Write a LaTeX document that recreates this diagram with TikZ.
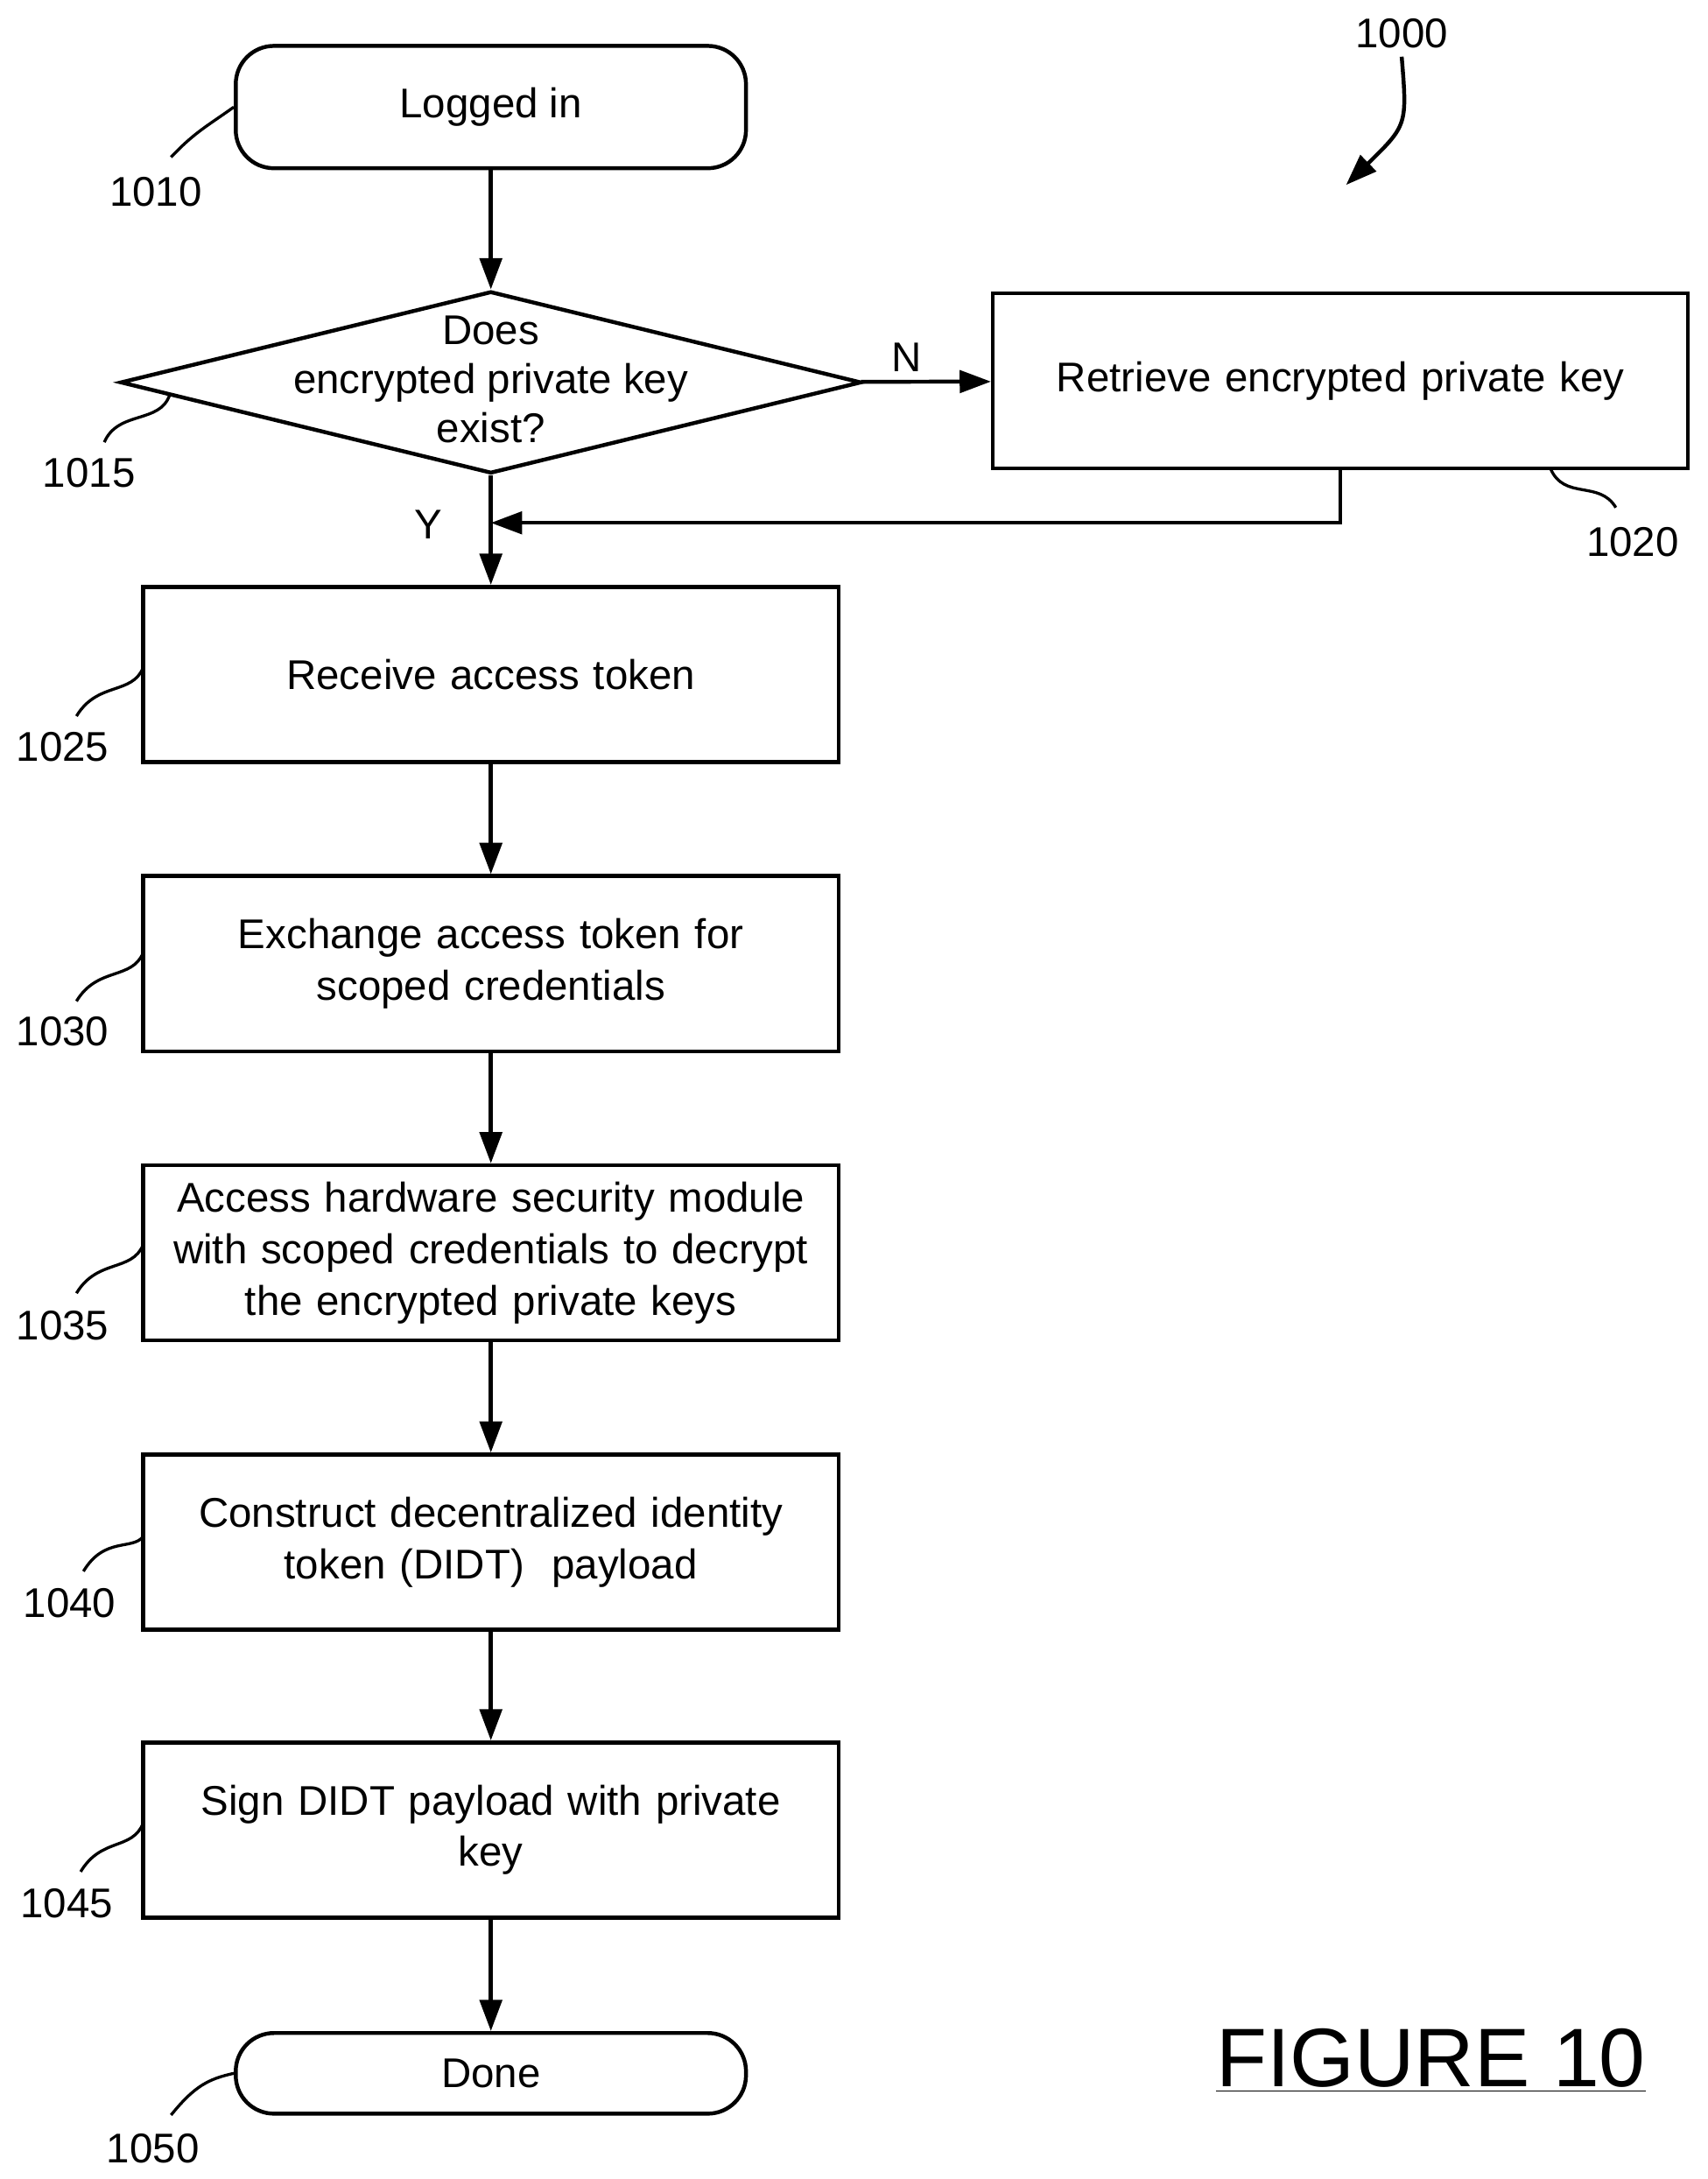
\documentclass[tikz,border=0pt]{standalone}
\usepackage{fontspec}
\setmainfont{Liberation Sans}
\usetikzlibrary{shapes.geometric,arrows.meta}

\tikzset{
  box/.style={draw,line width=1.6pt,minimum width=10cm,minimum height=2.52cm,align=center,text width=9.6cm,font=\fontsize{17}{21}\selectfont},
  term/.style={draw,line width=1.6pt,rounded corners=0.55cm,minimum width=7.34cm,align=center,font=\fontsize{17}{21}\selectfont},
  txt/.style={font=\fontsize{17}{21}\selectfont},
  flow/.style={line width=1.6pt,-{Triangle[length=0.45cm,width=0.32cm]}},
  squig/.style={line width=1.2pt}
}

\begin{document}
\begin{tikzpicture}[x=0.02cm,y=-0.02cm]
    \useasboundingbox (0,0) rectangle (1228,1567);

    \node (login) [term,minimum height=1.76cm] at (353,77) {Logged in};
    \node (ask) [diamond,draw,line width=1.6pt,minimum width=10.66cm,minimum height=2.62cm,inner sep=0pt] at (353,275) {};
    \node (asktext) [txt,align=center] at (353,273) {Does\\[-1pt]encrypted private key\\[-1pt]exist?};
    \node (fetch) [box] at (964,274) {Retrieve encrypted private key};
    \node (receive) [box] at (353,485) {Receive access token};
    \node (swap) [box] at (353,693) {Exchange access token for\\scoped credentials};
    \node (hsm) [box] at (353,901) {Access hardware security module\\with scoped credentials to decrypt\\the encrypted private keys};
    \node (build) [box] at (353,1109) {Construct decentralized identity\\token (DIDT)\ \ payload};
    \node (sign) [box] at (353,1316) {Sign DIDT payload with private\\key};
    \node (done) [term,minimum height=1.16cm] at (353,1491) {Done};
    \coordinate (merge) at (353,376);

    % flow
    \draw[flow] (login) -- (ask);
    \draw[flow] (ask) -- node[pos=0.35,above,txt] {N} (fetch);
    \draw[line width=1.6pt] (ask.south) -- (merge);
    \draw[flow] (fetch.south) |- (merge);
    \draw[flow] (merge) -- (receive);
    \draw[flow] (receive) -- (swap);
    \draw[flow] (swap) -- (hsm);
    \draw[flow] (hsm) -- (build);
    \draw[flow] (build) -- (sign);
    \draw[flow] (sign) -- (done);
    \node (yes) [txt] at (308,377) {Y};

    % reference numerals
    \node (n1000) [txt] at (1008,24) {1000};
    \node (n1010) [txt] at (112,138) {1010};
    \node (n1015) [txt] at (64,340) {1015};
    \node (n1020) [txt] at (1174,390) {1020};
    \node (n1025) [txt] at (45,537) {1025};
    \node (n1030) [txt] at (45,742) {1030};
    \node (n1035) [txt] at (45,953) {1035};
    \node (n1040) [txt] at (50,1153) {1040};
    \node (n1045) [txt] at (48,1369) {1045};
    \node (n1050) [txt] at (110,1545) {1050};
    \node (fig) [font=\fontsize{34}{40}\selectfont] at (1029,1482) {\underline{FIGURE 10}};

    \draw[line width=1.6pt,-{Triangle[length=0.45cm,width=0.32cm]}] (n1000.south) .. controls (1012,90) .. (968,133);
    \draw[squig] (123,113) .. controls (140,95) and (150,90) .. (login.west);
    \draw[squig] (75,318) .. controls (85,295) and (115,305) .. (122,284);
    \draw[squig] (1162,365) .. controls (1150,345) and (1125,360) .. (1115,337);
    \draw[squig] (55,515) .. controls (70,490) and (95,500) .. (103,480);
    \draw[squig] (55,720) .. controls (70,695) and (95,705) .. (103,685);
    \draw[squig] (55,930) .. controls (70,905) and (95,915) .. (103,895);
    \draw[squig] (60,1130) .. controls (75,1105) and (95,1115) .. (103,1105);
    \draw[squig] (58,1346) .. controls (73,1321) and (95,1331) .. (103,1311);
    \draw[squig] (123,1521) .. controls (140,1500) and (150,1495) .. (done.west);
\end{tikzpicture}
\end{document}
